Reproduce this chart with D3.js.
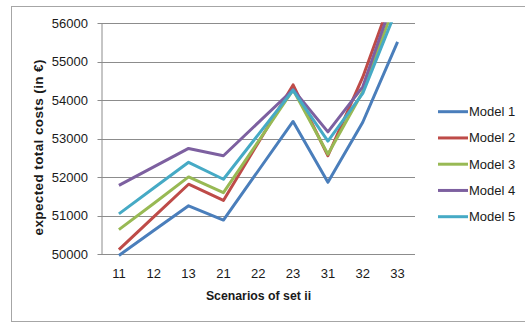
<!DOCTYPE html>
<html>
<head>
<meta charset="utf-8">
<script src="https://cdn.jsdelivr.net/npm/d3@7"></script>
<style>
  body { margin: 0; background: #fff; }
  svg { display: block; font-family: "Liberation Sans", Arial, sans-serif; }
</style>
</head>
<body>
<div id="chart"></div>
<script>
// Data
const scenarios = ["11", "12", "13", "21", "22", "23", "31", "32", "33"];
const seriesNames = ["Model 1", "Model 2", "Model 3", "Model 4", "Model 5"];
const model1 = [49970, 50620, 51260, 50890, 52170, 53450, 51870, 53430, 55520];
const model2 = [50120, 50970, 51820, 51400, 52900, 54400, 52560, 54600, 57100];
const model3 = [50640, 51320, 52010, 51600, 52930, 54270, 52600, 54220, 56700];
const model4 = [51790, 52270, 52750, 52560, 53420, 54280, 53180, 54350, 56950];
const model5 = [51050, 51720, 52390, 51950, 53110, 54260, 52940, 54180, 56430];
const yTicks = [50000, 51000, 52000, 53000, 54000, 55000, 56000];
const colors = ["#4A7EBB", "#BE4B48", "#98B954", "#7D60A0", "#46AAC5"];

const allSeries = [model1, model2, model3, model4, model5];

const width = 525, height = 322;
const plot = { left: 101.5, right: 415, top: 23.3, bottom: 254.3 };

const svg = d3.select("#chart")
  .append("svg")
  .attr("width", width)
  .attr("height", height);

// outer chart frame
svg.append("rect")
  .attr("x", 11.5)
  .attr("y", 6.5)
  .attr("width", 530)
  .attr("height", 315)
  .attr("fill", "none")
  .attr("stroke", "#a6a6a6");

const x = d3.scalePoint()
  .domain(scenarios)
  .range([plot.left, plot.right])
  .padding(0.5);

const y = d3.scaleLinear()
  .domain([50000, 56000])
  .range([plot.bottom, plot.top]);

// gridlines
svg.append("g")
  .selectAll("line")
  .data(yTicks)
  .enter()
  .append("line")
  .attr("x1", plot.left - 4)
  .attr("x2", plot.right)
  .attr("y1", d => Math.round(y(d)) + 0.5)
  .attr("y2", d => Math.round(y(d)) + 0.5)
  .attr("stroke", "#8c8c8c");

// y axis line
svg.append("line")
  .attr("x1", plot.left + 0.5)
  .attr("x2", plot.left + 0.5)
  .attr("y1", plot.top)
  .attr("y2", Math.round(plot.bottom) + 0.5)
  .attr("stroke", "#8c8c8c");

// y tick labels
svg.append("g")
  .selectAll("text")
  .data(yTicks)
  .enter()
  .append("text")
  .attr("x", 88)
  .attr("y", d => y(d) + 4.5)
  .attr("text-anchor", "end")
  .style("font-size", "13px")
  .style("fill", "#1a1a1a")
  .text(d => d);

// x tick labels
svg.append("g")
  .selectAll("text")
  .data(scenarios)
  .enter()
  .append("text")
  .attr("x", d => x(d))
  .attr("y", 277.5)
  .attr("text-anchor", "middle")
  .style("font-size", "13px")
  .style("fill", "#1a1a1a")
  .text(d => d);

// clip lines to the plot area
svg.append("clipPath")
  .attr("id", "plotclip")
  .append("rect")
  .attr("x", plot.left)
  .attr("y", plot.top - 1)
  .attr("width", plot.right - plot.left)
  .attr("height", plot.bottom - plot.top + 6);

const line = d3.line()
  .x((d, i) => x(scenarios[i]))
  .y(d => y(d));

svg.append("g")
  .attr("clip-path", "url(#plotclip)")
  .selectAll("path")
  .data(allSeries)
  .enter()
  .append("path")
  .attr("d", d => line(d))
  .attr("fill", "none")
  .attr("stroke", (d, i) => colors[i])
  .attr("stroke-width", 3)
  .attr("stroke-linejoin", "round");

// legend
const legend = svg.append("g")
  .selectAll("g")
  .data(seriesNames)
  .enter()
  .append("g")
  .attr("transform", (d, i) => "translate(0," + (111.7 + i * 26.25) + ")");

legend.append("line")
  .attr("x1", 438)
  .attr("x2", 468)
  .attr("stroke", (d, i) => colors[i])
  .attr("stroke-width", 3);

legend.append("text")
  .attr("x", 469)
  .attr("y", 4.5)
  .style("font-size", "13px")
  .style("fill", "#1a1a1a")
  .text(d => d);

// axis titles
svg.append("text")
  .attr("x", 258.5)
  .attr("y", 300)
  .attr("text-anchor", "middle")
  .style("font-size", "12.3px")
  .style("font-weight", "bold")
  .style("fill", "#1a1a1a")
  .text("Scenarios of set ii");

svg.append("text")
  .attr("transform", "translate(42.5,147.5) rotate(-90)")
  .attr("text-anchor", "middle")
  .attr("textLength", 176)
  .attr("lengthAdjust", "spacing")
  .style("font-size", "13.5px")
  .style("font-weight", "bold")
  .style("fill", "#1a1a1a")
  .text("expected total costs (in €)");
</script>
</body>
</html>
